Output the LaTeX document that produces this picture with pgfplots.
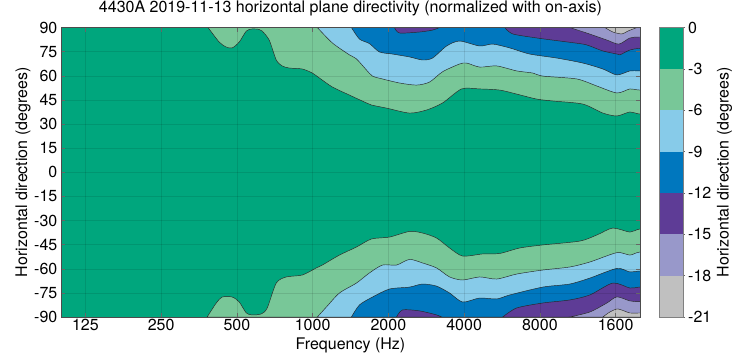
\documentclass[border=0pt]{standalone}
\usepackage{fontspec}
\setmainfont{TeX Gyre Heros}
\usepackage{pgfplots}
\pgfplotsset{compat=1.18}
\definecolor{cgreen}{RGB}{0,166,125}
\definecolor{clgreen}{RGB}{120,199,152}
\definecolor{clblue}{RGB}{135,203,233}
\definecolor{cblue}{RGB}{0,119,190}
\definecolor{cpurple}{RGB}{94,60,150}
\definecolor{clav}{RGB}{152,152,202}
\definecolor{cgray}{RGB}{192,192,192}
\begin{document}
\begin{tikzpicture}[font=\fontsize{16}{19}\selectfont]
\useasboundingbox (0,0) rectangle (740pt,358pt);
\begin{axis}[
  at={(61pt,41pt)}, anchor=south west,
  scale only axis, width=579pt, height=289.5pt,
  xmode=log, xmin=100, xmax=20000, ymin=-90, ymax=90,
  xtick={125,250,500,1000,2000,4000,8000,16000},
  xticklabels={125,250,500,1000,2000,4000,8000,1600},
  minor xtick={},
  ytick={-90,-75,-60,-45,-30,-15,0,15,30,45,60,75,90},
  yticklabels={-90,-75,-60,-45,-30,-15,0,15,30,45,60,75,90},
  axis background/.style={fill=cgreen},
  axis on top,
  grid=major, major grid style={black, opacity=0.1, line width=0.4pt},
  tick align=inside, major tick length=4pt, tick style={black!60, line width=0.4pt},
  axis line style={black!70, line width=0.6pt},
  xticklabel style={anchor=base, yshift=-14pt, inner sep=0pt},
  yticklabel style={anchor=east, inner sep=0pt, xshift=-3.5pt},
  title={4430A 2019-11-13 horizontal plane directivity (normalized with on-axis)},
  title style={at={(axis description cs:0.5,1.031)}, anchor=base, inner sep=0pt},
  xlabel={Frequency (Hz)},
  xlabel style={at={(axis description cs:0.5,-0.114)}, anchor=base, inner sep=0pt},
  ylabel={Horizontal direction (degrees)},
  ylabel style={at={(axis description cs:-0.0587,0.5)}, anchor=base, inner sep=0pt},
  every axis plot/.append style={draw=black!85, line width=0.45pt, mark=none, smooth, tension=0.45},
]
% ---- upper half (positive angles), region beyond each contour ----
\addplot[fill=clgreen] coordinates {(384,90)(425,81.0)(453,77.9)(479,77.3)(511,81.0)(545,87.8)(575,89.1)(613,88.8)(630,87.8)(672,82.2)(717,69.8)(757,66.1)(808,64.8)(910,64.2)(997,61.7)(1064,58.6)(1198,53.0)(1400,48.0)(1636,43.1)(1713,41.8)(1965,39.9)(2427,36.8)(2836,38.7)(3285,43.1)(3909,51.8)(4611,51.8)(5540,51.1)(6472,48.6)(7775,45.5)(9005,44.3)(11850,42.4)(14240,36.8)(16190,35.0)(18240,37.5)(20000,36.2)(25000,36.2)(25000,90)} -- cycle;
\addplot[fill=clblue] coordinates {(1044,90)(1198,80.4)(1400,73.0)(1493,70.5)(1636,63.6)(1729,59.8)(1895,58.0)(2214,55.5)(2588,54.2)(2916,56.1)(3285,62.5)(3838,67.3)(4093,67.9)(4611,65.4)(5389,66.1)(6472,63.0)(7495,61.7)(8215,59.8)(11220,58.0)(13480,53.6)(16190,49.3)(18240,51.8)(20000,51.1)(25000,51.1)(25000,90)} -- cycle;
\addplot[fill=cblue] coordinates {(1426,90)(1535,82.8)(1682,80.0)(1843,74.8)(2077,73.5)(2427,71.7)(2734,69.8)(2996,71.0)(3408,78.5)(3838,81.6)(4611,78.5)(5195,79.7)(6071,77.3)(7291,73.5)(9342,71.0)(11850,67.9)(14240,64.2)(16190,60.5)(18240,63.0)(20000,63.0)(25000,63.0)(25000,90)} -- cycle;
\addplot[fill=cpurple] coordinates {(2115,90)(2214,86.6)(2659,87.2)(2996,88.4)(3195,90)} -- cycle;
\addplot[fill=cpurple] coordinates {(5800,90)(6241,86.0)(7775,83.5)(9600,81.6)(11850,79.7)(12640,78.5)(14240,75.4)(16190,73.5)(16640,73.0)(18240,76.0)(20000,77.0)(25000,77.0)(25000,90)} -- cycle;
\addplot[fill=clav] coordinates {(10520,90)(12640,85.9)(14770,82.2)(16480,79.7)(18240,83.5)(20000,84.1)(25000,84.1)(25000,90)} -- cycle;
\addplot[fill=cgray] coordinates {(14500,90)(15600,87.2)(16950,86.0)(17910,87.8)(19450,90)} -- cycle;
% ---- lower half (negative angles) ----
\addplot[fill=clgreen] coordinates {(381,-90)(414,-81.3)(437,-77.6)(479,-77.6)(511,-80.7)(545,-87.5)(575,-88.7)(625,-88.1)(660,-84.4)(717,-68.9)(786,-65.1)(910,-63.9)(1034,-59.5)(1093,-57.7)(1278,-51.5)(1493,-46.5)(1713,-41.5)(2021,-40.3)(2427,-36.8)(2734,-37.8)(3108,-40.9)(3502,-47.1)(3945,-52.1)(4740,-50.8)(5540,-50.5)(6654,-47.1)(8215,-45.2)(11530,-42.8)(13480,-39.0)(15600,-34.7)(18240,-37.2)(20000,-35.3)(25000,-35.3)(25000,-90)} -- cycle;
\addplot[fill=clblue] coordinates {(1044,-90)(1134,-83.8)(1278,-75.1)(1493,-68.9)(1682,-62.6)(1895,-57.7)(2154,-57.7)(2427,-54.2)(2734,-56.4)(3108,-59.5)(3502,-65.1)(3945,-67.0)(4611,-65.1)(5389,-66.4)(6472,-63.3)(8215,-60.8)(10520,-58.9)(12640,-55.8)(16190,-50.0)(18240,-51.5)(20000,-49.6)(25000,-49.6)(25000,-90)} -- cycle;
\addplot[fill=cblue] coordinates {(1426,-90)(1535,-82.5)(1729,-77.6)(2021,-72.6)(2427,-71.4)(2734,-69.5)(3108,-70.8)(3502,-75.1)(3945,-80.7)(4611,-78.2)(5389,-78.8)(6071,-76.3)(8215,-71.4)(10520,-69.5)(12640,-65.8)(16190,-59.8)(18240,-62.0)(20000,-61.4)(25000,-61.4)(25000,-90)} -- cycle;
\addplot[fill=cpurple] coordinates {(2154,-90)(2277,-85.6)(2659,-86.2)(3108,-88.7)(3254,-90)} -- cycle;
\addplot[fill=cpurple] coordinates {(5693,-90)(6472,-84.4)(8215,-81.3)(10520,-79.4)(12640,-76.3)(15600,-68.9)(18240,-72.0)(20000,-71.4)(25000,-71.4)(25000,-90)} -- cycle;
\addplot[fill=clav] coordinates {(10520,-90)(12640,-86.9)(14770,-81.3)(16190,-77.5)(18240,-80.0)(20000,-80.5)(25000,-80.5)(25000,-90)} -- cycle;
\addplot[fill=cgray] coordinates {(14240,-90)(15180,-86.9)(16340,-85.0)(18240,-87.5)(20000,-87.5)(25000,-87.5)(25000,-90)} -- cycle;
\end{axis}
% ---- colour bar ----
\begin{axis}[
  at={(659pt,41pt)}, anchor=south west,
  scale only axis, width=24pt, height=289.5pt,
  xmin=0, xmax=1, ymin=-21, ymax=0,
  xtick=\empty,
  ytick={-21,-18,-15,-12,-9,-6,-3,0},
  yticklabels={-21,-18,-15,-12,-9,-6,-3,0},
  ytick pos=right, yticklabel pos=right,
  tick align=outside, major tick length=2pt, tick style={black!60, line width=0.4pt},
  yticklabel style={anchor=west, inner sep=0pt, xshift=3pt},
  axis line style={black!50, line width=0.5pt},
  axis on top,
  ylabel={Horizontal direction (degrees)},
  ylabel style={at={(axis description cs:2.896,0.5)}, anchor=base, inner sep=0pt},
  every axis plot/.append style={draw=none, mark=none},
]
\addplot[fill=cgreen] coordinates {(0,-3)(1,-3)(1,0)(0,0)} -- cycle;
\addplot[fill=clgreen] coordinates {(0,-6)(1,-6)(1,-3)(0,-3)} -- cycle;
\addplot[fill=clblue] coordinates {(0,-9)(1,-9)(1,-6)(0,-6)} -- cycle;
\addplot[fill=cblue] coordinates {(0,-12)(1,-12)(1,-9)(0,-9)} -- cycle;
\addplot[fill=cpurple] coordinates {(0,-15)(1,-15)(1,-12)(0,-12)} -- cycle;
\addplot[fill=clav] coordinates {(0,-18)(1,-18)(1,-15)(0,-15)} -- cycle;
\addplot[fill=cgray] coordinates {(0,-21)(1,-21)(1,-18)(0,-18)} -- cycle;
\end{axis}
\end{tikzpicture}
\end{document}
